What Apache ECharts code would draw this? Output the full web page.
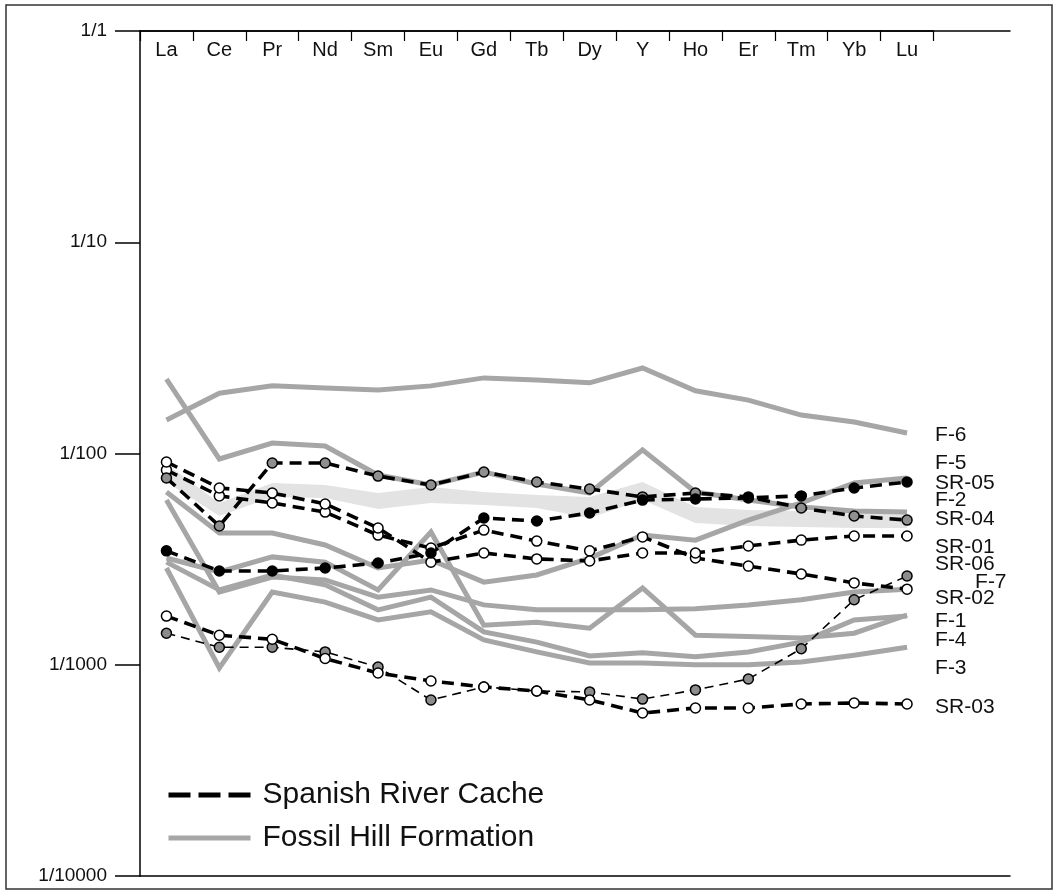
<!DOCTYPE html>
<html>
<head>
<meta charset="utf-8">
<script src="https://cdn.jsdelivr.net/npm/echarts@6/dist/echarts.min.js"></script>
<style>
  html, body { margin: 0; padding: 0; background: #fff; }
  #chart { width: 1059px; height: 895px; }
</style>
</head>
<body>
<div id="chart"></div>
<script>
// Rare-earth elements (plus Y), in plotting order along the top axis
const elements = ['La', 'Ce', 'Pr', 'Nd', 'Sm', 'Eu', 'Gd', 'Tb', 'Dy', 'Y', 'Ho', 'Er', 'Tm', 'Yb', 'Lu'];

// Fossil Hill Formation profiles (normalised ratios)
const F6 = [0.0144, 0.0193, 0.0209, 0.0204, 0.0200, 0.0209, 0.0228, 0.0223, 0.0216, 0.0254, 0.0198, 0.0179, 0.0152, 0.0141, 0.0125];
const F5 = [0.00657, 0.0042, 0.0042, 0.00369, 0.00287, 0.00313, 0.00246, 0.00266, 0.0032, 0.00411, 0.00389, 0.00484, 0.00583, 0.00725, 0.00766];
const F2 = [0.0225, 0.00942, 0.0112, 0.01085, 0.00791, 0.00709, 0.00817, 0.00717, 0.0065, 0.0104, 0.00657, 0.00602, 0.00558, 0.00534, 0.00528];
const F7 = [0.00602, 0.00221, 0.0026, 0.00252, 0.00209, 0.00226, 0.00192, 0.00182, 0.00182, 0.00182, 0.00184, 0.00192, 0.00203, 0.00221, 0.00228];
const F1 = [0.0032, 0.00275, 0.00324, 0.00306, 0.00226, 0.00425, 0.00154, 0.00159, 0.00149, 0.00231, 0.00138, 0.00136, 0.00134, 0.00141, 0.00172];
const F4 = [0.00306, 0.00226, 0.00266, 0.00239, 0.00182, 0.00209, 0.00143, 0.00128, 0.0011, 0.00114, 0.00109, 0.00115, 0.00128, 0.00163, 0.0017];
const F3 = [0.00287, 0.000965, 0.00221, 0.00198, 0.00163, 0.00178, 0.00131, 0.00115, 0.00102, 0.00102, 0.001, 0.001, 0.00103, 0.00111, 0.00121];

// Fossil Hill envelope (shaded range)
const bandHigh = [0.00892, 0.00583, 0.00725, 0.00709, 0.0065, 0.00694, 0.00657, 0.00636, 0.00623, 0.00733, 0.00558, 0.0054, 0.00534, 0.00528, 0.00528];
const bandLow = [0.00733, 0.00506, 0.00623, 0.00616, 0.00546, 0.00583, 0.0057, 0.00552, 0.00495, 0.00602, 0.00469, 0.00454, 0.00449, 0.00444, 0.00444];

// Spanish River Cache samples
const SR05 = [0.00346, 0.00278, 0.00278, 0.00287, 0.00303, 0.00338, 0.00495, 0.00479, 0.00523, 0.00602, 0.00609, 0.00616, 0.0063, 0.00687, 0.00733];
const SR04 = [0.00766, 0.00454, 0.00902, 0.00902, 0.00782, 0.00709, 0.00817, 0.00733, 0.00679, 0.00623, 0.0065, 0.00623, 0.00552, 0.00506, 0.00484];
const SR01 = [0.00912, 0.00687, 0.0065, 0.00577, 0.00444, 0.00306, 0.00338, 0.00317, 0.0031, 0.00338, 0.00338, 0.00365, 0.00389, 0.00407, 0.00407];
const SR02 = [0.00835, 0.0063, 0.00583, 0.00528, 0.00411, 0.00357, 0.00434, 0.00385, 0.00346, 0.00403, 0.0032, 0.00293, 0.00269, 0.00244, 0.00228];
const SR06 = [0.00141, 0.00121, 0.00121, 0.00115, 0.000976, 0.000681, 0.000785, 0.000751, 0.000744, 0.000688, 0.00076, 0.000856, 0.00119, 0.00203, 0.00263];
const SR03 = [0.0017, 0.00138, 0.00132, 0.00107, 0.000914, 0.000838, 0.000785, 0.000751, 0.000681, 0.000591, 0.000624, 0.000624, 0.000652, 0.000659, 0.000652];

// ---- styling ----
const FONT = 'Liberation Sans, Arial, Helvetica, sans-serif';
const GREY = '#a6a6a6';
const SLOT = 52.9;                         // width of one element column, px
const PLOT_LEFT = 140, PLOT_TOP = 31, PLOT_H = 845, FRAME_W = 870;

// end-label nudges [dx, dy] so stacked names stay readable
const labelNudge = {
  'F-6': [28, 2], 'F-5': [28, -15], 'SR-05': [28, 1], 'F-2': [28, -12],
  'SR-04': [28, -1], 'SR-01': [28, 11], 'SR-06': [28, -12], 'F-7': [68, -7],
  'SR-02': [28, 9], 'F-1': [28, 6], 'F-4': [28, 24], 'F-3': [28, 21], 'SR-03': [28, 3]
};

function endLabel(name) {
  const n = labelNudge[name];
  return {
    show: true, formatter: name, distance: n[0], offset: [0, n[1]],
    fontSize: 21, fontFamily: FONT, color: '#111', align: 'left', verticalAlign: 'middle'
  };
}

function fossil(name, arr) {
  return {
    type: 'line', name, data: arr, symbol: 'none', silent: true,
    lineStyle: { color: GREY, width: 5, join: 'miter' },
    endLabel: endLabel(name), z: 3
  };
}

function cache(name, arr, fill, thin) {
  return {
    type: 'line', name, data: arr, silent: true,
    symbol: 'circle', symbolSize: 10, showSymbol: true, showAllSymbol: true,
    itemStyle: { color: fill, borderColor: '#000', borderWidth: 1.5 },
    lineStyle: thin ? { color: '#000', width: 1.6, type: [9, 6] }
                    : { color: '#000', width: 3.6, type: [12, 7] },
    endLabel: endLabel(name), z: thin ? 4 : 5
  };
}

const series = [
  // shaded envelope between bandLow and bandHigh
  {
    type: 'custom', name: 'envelope', silent: true, z: 1, data: [0],
    renderItem: (params, api) => {
      const upper = bandHigh.map((v, i) => api.coord([i, v]));
      const lower = bandLow.map((v, i) => api.coord([i, v])).reverse();
      return { type: 'polygon', shape: { points: upper.concat(lower) }, style: { fill: '#e3e3e3' } };
    }
  },

  fossil('F-6', F6), fossil('F-5', F5), fossil('F-2', F2), fossil('F-7', F7),
  fossil('F-1', F1), fossil('F-4', F4), fossil('F-3', F3),

  cache('SR-06', SR06, '#8c8c8c', true),
  cache('SR-03', SR03, '#ffffff'),
  cache('SR-02', SR02, '#ffffff'),
  cache('SR-01', SR01, '#ffffff'),
  cache('SR-04', SR04, '#8f8f8f'),
  cache('SR-05', SR05, '#000000'),

  // legend keys
  { type: 'line', name: 'Spanish River Cache', data: [], symbol: 'none',
    itemStyle: { color: '#000' }, lineStyle: { color: '#000', width: 5, type: [22, 8] } },
  { type: 'line', name: 'Fossil Hill Formation', data: [], symbol: 'none',
    itemStyle: { color: GREY }, lineStyle: { color: GREY, width: 5 } }
];

const chart = echarts.init(document.getElementById('chart'), null, { renderer: 'canvas' });
chart.setOption({
  animation: false,
  backgroundColor: '#fff',
  grid: [
    // data area: one column per element
    { left: PLOT_LEFT, top: PLOT_TOP, width: SLOT * elements.length, height: PLOT_H,
      containLabel: false, outerBoundsMode: 'none' },
    // full frame width for the top and bottom rules
    { left: PLOT_LEFT, top: PLOT_TOP, width: FRAME_W, height: PLOT_H,
      containLabel: false, outerBoundsMode: 'none' }
  ],
  xAxis: [
    {
      type: 'category', gridIndex: 0, position: 'top', data: elements, boundaryGap: true,
      axisLine: { show: true, onZero: false, lineStyle: { color: '#000', width: 1.5 } },
      axisTick: { show: true, inside: true, length: 10, interval: 0, alignWithLabel: false,
                  lineStyle: { color: '#000', width: 1.2 } },
      axisLabel: { show: true, inside: true, interval: 0, margin: 9, fontSize: 20,
                   fontFamily: FONT, color: '#111', verticalAlign: 'top' },
      splitLine: { show: false }
    },
    {
      type: 'value', gridIndex: 1, position: 'top', min: 0, max: 1,
      axisLine: { show: true, onZero: false, lineStyle: { color: '#000', width: 1.5 } },
      axisTick: { show: false }, axisLabel: { show: false }, splitLine: { show: false }
    },
    {
      type: 'value', gridIndex: 1, position: 'bottom', min: 0, max: 1,
      axisLine: { show: true, onZero: false, lineStyle: { color: '#000', width: 1.5 } },
      axisTick: { show: false }, axisLabel: { show: false }, splitLine: { show: false }
    }
  ],
  yAxis: [
    {
      type: 'log', gridIndex: 0, logBase: 10, min: 0.0001, max: 1, splitNumber: 4,
      axisLine: { show: true, lineStyle: { color: '#000', width: 1.5 } },
      axisTick: { show: true, inside: false, length: 25, lineStyle: { color: '#000', width: 1.5 } },
      minorTick: { show: false },
      axisLabel: { show: true, margin: 33, fontSize: 19, fontFamily: FONT, color: '#111',
                   showMinLabel: true, showMaxLabel: true,
                   formatter: v => '1/' + Math.round(1 / v) },
      splitLine: { show: false }
    },
    {
      type: 'value', gridIndex: 1, min: 0, max: 1, show: false
    }
  ],
  legend: {
    data: [
      { name: 'Spanish River Cache', itemStyle: { opacity: 0 },
        lineStyle: { color: '#000', width: 5, type: [22, 8] } },
      { name: 'Fossil Hill Formation', itemStyle: { opacity: 0 },
        lineStyle: { color: GREY, width: 5 } }
    ],
    orient: 'vertical', left: 166, top: 780, padding: 0,
    itemWidth: 82, itemHeight: 14, itemGap: 13, selectedMode: false,
    textStyle: { fontSize: 30, fontFamily: FONT, color: '#111', padding: [0, 0, 0, 7] }
  },
  graphic: [
    { type: 'rect', silent: true, z: -10,
      shape: { x: 6, y: 5, width: 1046, height: 884 },
      style: { fill: 'none', stroke: '#333', lineWidth: 1.5 } }
  ],
  series
});
</script>
</body>
</html>
